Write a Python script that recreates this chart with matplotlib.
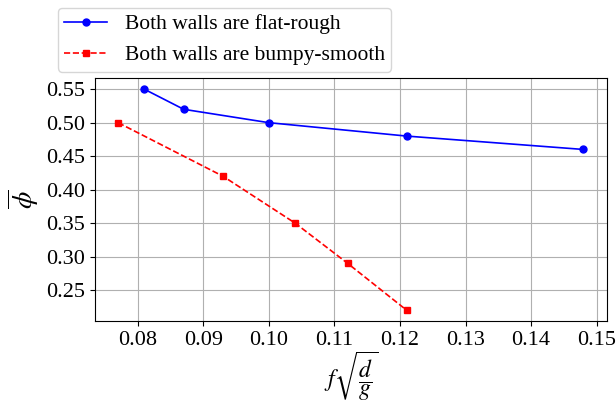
import numpy as np
import matplotlib
matplotlib.use("Agg")
import matplotlib.pyplot as plt

plt.rcParams['font.family'] = ['Liberation Serif', 'DejaVu Serif']
plt.rcParams['mathtext.fontset'] = 'stix'

# flat-rough walls
x_flat = [0.081, 0.087, 0.100, 0.121, 0.148]
phi_flat = [0.55, 0.52, 0.50, 0.48, 0.46]

# bumpy-smooth walls
x_bumpy = [0.077, 0.093, 0.104, 0.112, 0.121]
phi_bumpy = [0.50, 0.42, 0.35, 0.29, 0.22]

labels = ['Both walls are flat-rough', 'Both walls are bumpy-smooth']

fig = plt.figure(figsize=(6.16, 4.05), dpi=100)
ax = fig.add_axes([0.154, 0.207, 0.831, 0.600])

ax.plot(x_flat, phi_flat, 'b-', marker='o', markersize=5, linewidth=1.2, label=labels[0])
ax.plot(x_bumpy, phi_bumpy, 'r--', marker='s', markersize=5, linewidth=1.2, label=labels[1])

ax.set_yticks([0.25, 0.30, 0.35, 0.40, 0.45, 0.50, 0.55])
ax.set_xticks([0.08, 0.09, 0.10, 0.11, 0.12, 0.13, 0.14, 0.15])
ax.tick_params(labelsize=16)
ax.grid(True)

ax.set_xlabel(r'$f\sqrt{\dfrac{d}{g}}$', fontsize=17, labelpad=0)
ax.set_ylabel(r'$\overline{\phi}$', fontsize=20)

ax.legend(loc='lower left', bbox_to_anchor=(-0.085, 1.0), fontsize=15.5,
          frameon=True, borderaxespad=0.3, borderpad=0.3)

fig.savefig('out.png', dpi=100)
